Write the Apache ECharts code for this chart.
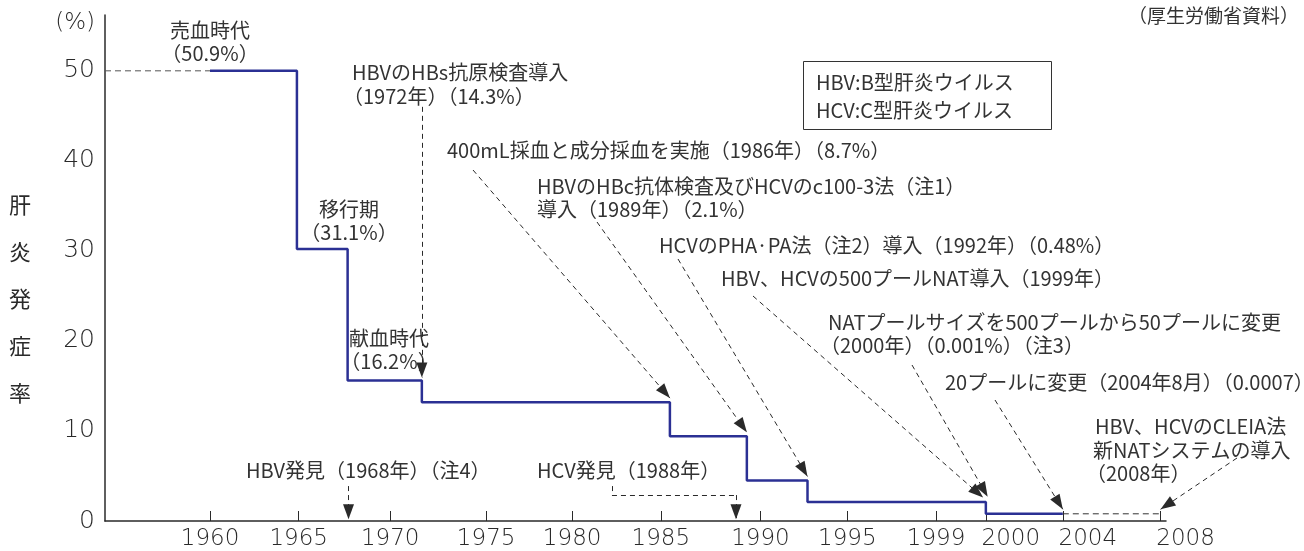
<!DOCTYPE html>
<html>
<head>
<meta charset="utf-8">
<script src="https://cdn.jsdelivr.net/npm/echarts@6/dist/echarts.min.js"></script>
<style>
  html, body { margin: 0; padding: 0; background: #fff; }
  #chart { width: 1304px; height: 551px; }
</style>
</head>
<body>
<div id="chart"></div>
<script>
// x axis is drawn in "slot" units: 1960 sits at 0, each printed year label is one slot further
const yearLabels = ['1960', '1965', '1970', '1975', '1980', '1985', '1990', '1995', '1999', '2000', '2004', '2008'];
const labelPos = [0, 0.98, 1.99, 3.05, 4.0, 4.98, 6.08, 7.04, 8.02, 8.57, 9.42, 10.5];
const tickPos = [0, 0.98, 1.99, 3.05, 4.0, 4.98, 6.08, 7.04, 8.02, 8.57, 9.42, 10.5];
const shiftedLabels = ['2000', '2004', '2008'];

// incidence of post-transfusion hepatitis (%), as drawn
const stepPos = [0, 0.96, 1.52, 2.34, 5.08, 5.93, 6.6, 8.57, 9.42];
const rates = [50, 30.2, 15.6, 13.2, 9.4, 4.5, 2.1, 0.8, 0.8];
const tailEnd = 10.5;   // dashed continuation up to 2008
const hbvFound = 1.53;  // HBV発見 1968
const hcvFound = 5.81;  // HCV発見 1988

const yTicks = [0, 10, 20, 30, 40, 50];

const font = '"Noto Sans CJK JP", "Noto Sans", sans-serif';
const numFont = '"DejaVu Sans", sans-serif';
const navy = '#2b3094';
const ink = '#2a2a2a';

const stepData = stepPos.map((x, i) => [x, rates[i]]);
const headGuide = [[-1.16, rates[0]], [stepPos[0], rates[0]]];
const tailGuide = [[stepPos[stepPos.length - 1], rates[rates.length - 1]], [tailEnd, rates[rates.length - 1]]];

const noHead = { symbol: 'none' };
function arrow(from, to) { return [from, { coord: to }]; }

const arrows = [
  [{ coord: [stepPos[3], 46.0] }, { coord: [stepPos[3], rates[2] + 0.35] }],
  arrow({ x: 473, y: 170 }, [stepPos[4], rates[3] + 0.45]),
  arrow({ x: 597, y: 222 }, [stepPos[5], rates[4] + 0.45]),
  arrow({ x: 678, y: 259 }, [stepPos[6], rates[5] + 0.45]),
  arrow({ x: 753, y: 296 }, [stepPos[7] - 0.03, rates[6] + 0.5]),
  arrow({ x: 912, y: 365 }, [stepPos[7] + 0.02, rates[6] + 0.6]),
  arrow({ x: 995, y: 400 }, [stepPos[8], rates[7] + 0.5]),
  arrow({ x: 1237, y: 458 }, [tailEnd, rates[8] + 0.5]),
  [{ coord: [hbvFound, 3.88] }, { coord: [hbvFound, 0.2] }],
  [Object.assign({ coord: [4.44, 3.88] }, noHead), Object.assign({ coord: [4.44, 2.88] }, noHead)],
  [Object.assign({ coord: [4.44, 2.88] }, noHead), Object.assign({ coord: [hcvFound, 2.88] }, noHead)],
  [{ coord: [hcvFound, 2.88] }, { coord: [hcvFound, 0.2] }]
];

const notes = [
  ['売血時代', 210, 30, 'center'],
  ['（50.9%）', 210, 53, 'center'],
  ['移行期', 349, 209, 'center'],
  ['（31.1%）', 349, 232, 'center'],
  ['献血時代', 389, 338, 'center'],
  ['（16.2%）', 389, 361, 'center'],
  ['HBVのHBs抗原検査導入', 352, 72, 'left'],
  ['（1972年）（14.3%）', 343, 96, 'left'],
  ['400mL採血と成分採血を実施（1986年）（8.7%）', 447, 150, 'left'],
  ['HBVのHBc抗体検査及びHCVのc100-3法（注1）', 537, 186, 'left'],
  ['導入（1989年）（2.1%）', 537, 209, 'left'],
  ['HCVのPHA·PA法（注2）導入（1992年）（0.48%）', 659, 245, 'left'],
  ['HBV、HCVの500プールNAT導入（1999年）', 721, 278, 'left'],
  ['NATプールサイズを500プールから50プールに変更', 828, 322, 'left'],
  ['（2000年）（0.001%）（注3）', 820, 345, 'left'],
  ['20プールに変更（2004年8月）（0.0007）', 945, 382, 'left'],
  ['HBV、HCVのCLEIA法', 1095, 426, 'left'],
  ['新NATシステムの導入', 1093, 450, 'left'],
  ['（2008年）', 1086, 473, 'left'],
  ['HBV発見（1968年）（注4）', 246, 470, 'left'],
  ['HCV発見（1988年）', 537, 470, 'left']
];

const graphics = notes.map(n => ({
  type: 'text', silent: true,
  style: { text: n[0], x: n[1], y: n[2], align: n[3], verticalAlign: 'middle', fill: '#333', font: '20px ' + font }
}));
graphics.push(
  { type: 'text', silent: true, style: { text: '(%)', x: 95, y: 23, align: 'right', verticalAlign: 'middle', fill: ink, font: '300 23px ' + numFont } },
  { type: 'text', silent: true, style: { text: '肝\n炎\n発\n症\n率', x: 20, y: 299, align: 'center', verticalAlign: 'middle', lineHeight: 47, fill: ink, font: '22px ' + font } },
  { type: 'text', silent: true, style: { text: '（厚生労働省資料）', x: 1299, y: 16, align: 'right', verticalAlign: 'middle', fill: '#333', font: '19px ' + font } },
  { type: 'rect', silent: true, shape: { x: 803.5, y: 61.5, width: 248, height: 68 }, style: { fill: '#fff', stroke: '#333', lineWidth: 1 } },
  { type: 'text', silent: true, style: { text: 'HBV:B型肝炎ウイルス', x: 816, y: 82, verticalAlign: 'middle', fill: '#333', font: '20px ' + font } },
  { type: 'text', silent: true, style: { text: 'HCV:C型肝炎ウイルス', x: 816, y: 110, verticalAlign: 'middle', fill: '#333', font: '20px ' + font } }
);

const chart = echarts.init(document.getElementById('chart'));
chart.setOption({
  animation: false,
  backgroundColor: '#fff',
  grid: { left: 105, right: 138, top: 15, bottom: 29 },
  xAxis: {
    type: 'value',
    min: -1.16,
    max: 10.56,
    splitLine: { show: false },
    axisLine: { onZero: false, lineStyle: { color: ink, width: 1.5 } },
    axisTick: { inside: true, length: 10, customValues: tickPos, lineStyle: { color: ink } },
    axisLabel: {
      customValues: labelPos,
      margin: 7,
      color: ink,
      fontFamily: numFont,
      fontWeight: 300,
      fontSize: 23,
      formatter: v => {
        const i = labelPos.indexOf(v);
        const t = i < 0 ? '' : yearLabels[i];
        return shiftedLabels.indexOf(t) >= 0 ? '{s|' + t + '}' : t;
      },
      rich: { s: { padding: [0, 0, 0, 50], fontFamily: numFont, fontWeight: 300, fontSize: 23, color: ink } }
    }
  },
  yAxis: {
    type: 'value',
    min: 0,
    max: 56.2,
    splitLine: { show: false },
    axisLine: { show: true, onZero: false, lineStyle: { color: ink, width: 1.5 } },
    axisTick: { show: false },
    axisLabel: { customValues: yTicks, margin: 10, color: ink, fontFamily: numFont, fontWeight: 300, fontSize: 25 }
  },
  graphic: graphics,
  series: [
    {
      name: 'rate',
      type: 'line',
      step: 'end',
      data: stepData,
      symbol: 'none',
      lineStyle: { color: navy, width: 2.5 },
      z: 3,
      markLine: {
        silent: true,
        animation: false,
        symbol: ['none', 'triangle'],
        symbolSize: [11, 15],
        symbolOffset: [[0, 0], [0, 7.5]],
        label: { show: false },
        lineStyle: { color: ink, width: 1, type: [5, 4] },
        itemStyle: { color: '#111' },
        data: arrows
      }
    },
    {
      name: 'head',
      type: 'line',
      data: headGuide,
      symbol: 'none',
      lineStyle: { color: '#555', width: 1, type: [6, 4] }
    },
    {
      name: 'tail',
      type: 'line',
      data: tailGuide,
      symbol: 'none',
      lineStyle: { color: '#333', width: 1, type: [6, 4] }
    }
  ]
});
</script>
</body>
</html>
